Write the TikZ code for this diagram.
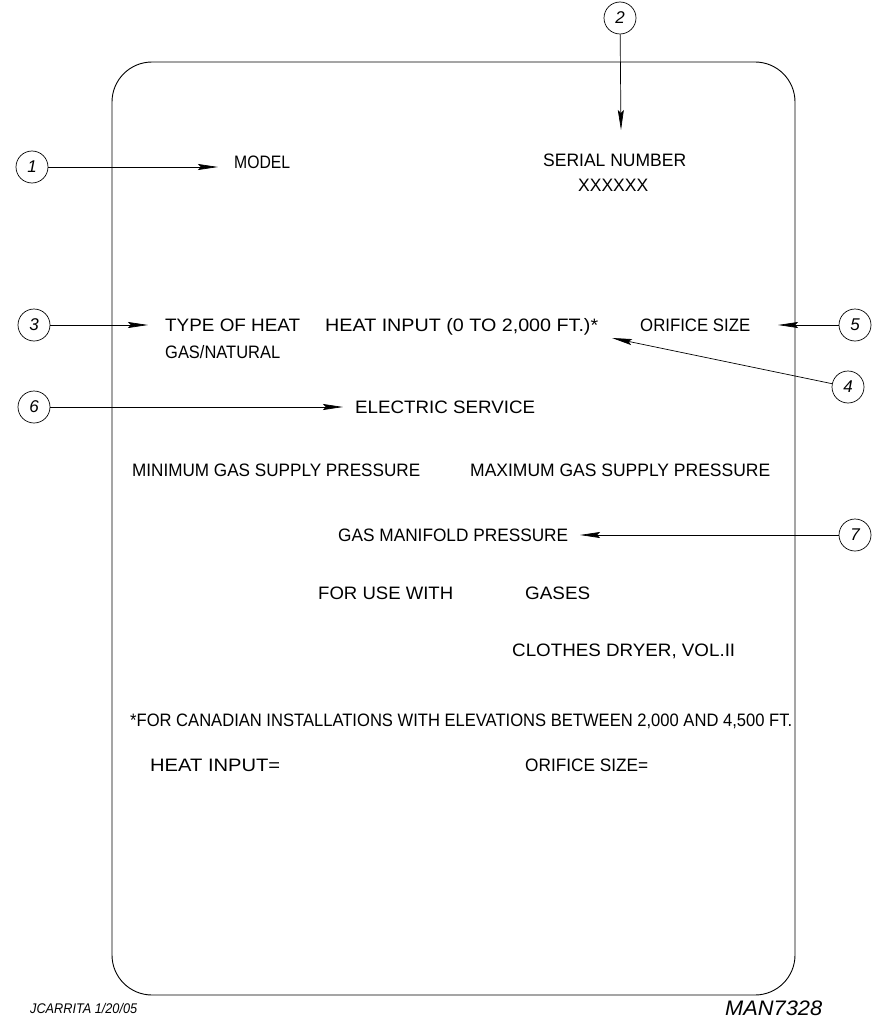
\documentclass[tikz,border=0pt]{standalone}
\usepackage{graphicx}
\usepackage{fontspec}
\setmainfont{Liberation Sans}
\usetikzlibrary{arrows.meta}

% stretch a plate text to the width it has on the plate
\newlength{\platew}
\newcommand{\fitw}[2]{\settowidth{\platew}{#2}\scalebox{\fpeval{(#1)/(\the\platew)}}[1]{#2}}

\tikzset{
  callout/.style={draw, circle, line width=0.7pt, minimum size=32pt, inner sep=0pt,
    font=\itshape\fontsize{17}{17}\selectfont},
  platetext/.style={inner sep=0pt, text height=13pt, text depth=0pt,
    font=\fontsize{18}{18}\selectfont},
  pointer/.style={line width=0.7pt, -{Stealth[length=20pt,width=6pt,inset=3pt]}}
}

\begin{document}
\begin{tikzpicture}[x=1pt, y=-1pt]
  \useasboundingbox (0,0) rectangle (871,1022);

  % plate outline
  \draw [line width=0.9pt, rounded corners=40pt] (112,62) rectangle (795,995);

  % plate texts
  \node [platetext, anchor=west] at (234,162) (Model)   {\fitw{56pt}{MODEL}};
  \node [platetext, anchor=west] at (543,160) (Serial)  {\fitw{143pt}{SERIAL NUMBER}};
  \node [platetext, anchor=west] at (578,185) (SerialX) {\fitw{70pt}{XXXXXX}};
  \node [platetext, anchor=west] at (165,325) (Heat)    {\fitw{135pt}{TYPE OF HEAT}};
  \node [platetext, anchor=west] at (165,352) (Natural) {\fitw{115pt}{GAS/NATURAL}};
  \node [platetext, anchor=west] at (325,325) (Input)   {\fitw{273pt}{HEAT INPUT (0 TO 2,000 FT.)*}};
  \node [platetext, anchor=west] at (640,325) (Orifice) {\fitw{110pt}{ORIFICE SIZE}};
  \node [platetext, anchor=west] at (355,407) (Electric) {\fitw{180pt}{ELECTRIC SERVICE}};
  \node [platetext, anchor=west] at (132,470) (MinGas)  {\fitw{288pt}{MINIMUM GAS SUPPLY PRESSURE}};
  \node [platetext, anchor=west] at (470,470) (MaxGas)  {\fitw{300pt}{MAXIMUM GAS SUPPLY PRESSURE}};
  \node [platetext, anchor=west] at (338,535) (Manifold) {\fitw{230pt}{GAS MANIFOLD PRESSURE}};
  \node [platetext, anchor=west] at (318,593) (UseWith) {\fitw{135pt}{FOR USE WITH}};
  \node [platetext, anchor=west] at (525,593) (Gases)   {\fitw{65pt}{GASES}};
  \node [platetext, anchor=west] at (512,650) (Dryer)   {\fitw{223pt}{CLOTHES DRYER, VOL.II}};
  \node [platetext, anchor=west] at (130,720) (Canada)  {\fitw{662pt}{*FOR CANADIAN INSTALLATIONS WITH ELEVATIONS BETWEEN 2,000 AND 4,500 FT.}};
  \node [platetext, anchor=west] at (150,765) (CanInput) {\fitw{130pt}{HEAT INPUT=}};
  \node [platetext, anchor=west] at (525,765) (CanOrifice) {\fitw{123pt}{ORIFICE SIZE=}};

  % drawing notes
  \node [inner sep=0pt, anchor=west, font=\itshape\fontsize{14}{14}\selectfont] at (30,1008) (Author) {\fitw{107pt}{JCARRITA 1/20/05}};
  \node [inner sep=0pt, anchor=west, font=\itshape\fontsize{21}{21}\selectfont] at (725,1008) (Drawing) {\fitw{97pt}{MAN7328}};

  % callouts
  \node [callout] at (32,167)  (C1) {1};
  \node [callout] at (620,18)  (C2) {2};
  \node [callout] at (34,325)  (C3) {3};
  \node [callout] at (848,387) (C4) {4};
  \node [callout] at (855,325) (C5) {5};
  \node [callout] at (34,407)  (C6) {6};
  \node [callout] at (855,535) (C7) {7};

  \coordinate (T1) at (218,167);
  \coordinate (T2) at (621,130);
  \coordinate (T3) at (148,325);
  \coordinate (T4) at (612,338);
  \coordinate (T5) at (778,325);
  \coordinate (T6) at (343,407);
  \coordinate (T7) at (580,535);

  \draw [pointer] (C1) -- (T1);
  \draw [pointer] (C2) -- (T2);
  \draw [pointer] (C3) -- (T3);
  \draw [pointer] (C4) -- (T4);
  \draw [pointer] (C5) -- (T5);
  \draw [pointer] (C6) -- (T6);
  \draw [pointer] (C7) -- (T7);
\end{tikzpicture}
\end{document}
